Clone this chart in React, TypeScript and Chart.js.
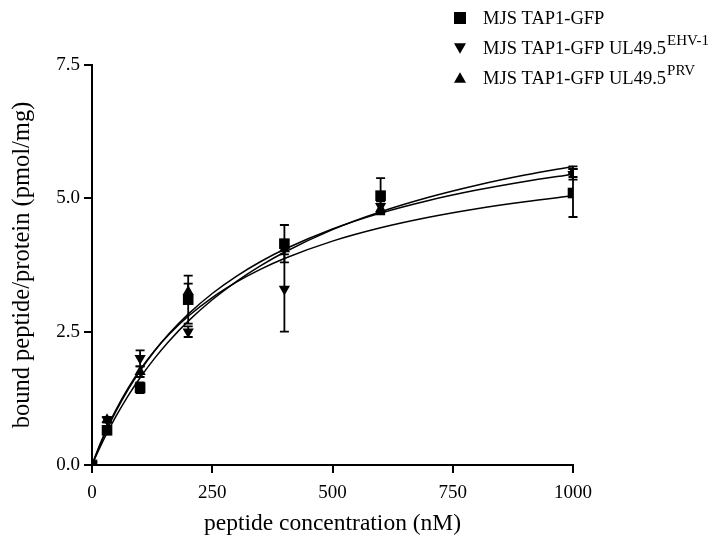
import React, { useEffect, useRef } from "react";
import { Chart, registerables } from "chart.js";

Chart.register(...registerables);

// Peptide concentrations (nM)
const CONCENTRATIONS = [0, 31.25, 100, 200, 400, 600, 1000];

// Bound peptide/protein (pmol/mg) and error bars
const TAP1_GFP = [0, 0.65, 1.45, 3.1, 4.15, 5.05, 5.1];
const TAP1_GFP_ERR = [0, 0.05, 0.1, 0.45, 0.35, 0.33, 0.45];
const EHV1 = [0, 0.85, 2.0, 2.5, 3.3, 4.85, 5.45];
const EHV1_ERR = [0, 0.05, 0.15, 0.1, 0.8, 0.1, 0.1];
const PRV = [0, 0.85, 1.75, 3.25, 4.05, 4.8, 5.5];
const PRV_ERR = [0, 0.05, 0.1, 0.15, 0.1, 0.1, 0.1];

// One-site binding fit parameters (Bmax, Kd)
const FIT_BMAX = [6.33, 7.1, 7.66];
const FIT_KD = [254, 302, 368];
const CURVE_X = [0, 10, 20, 31.25, 50, 75, 100, 130, 160, 200, 250, 300, 350, 400, 500, 600, 700, 800, 900, 1000];

const X_TICKS = [0, 250, 500, 750, 1000];
const Y_TICKS = [0, 2.5, 5.0, 7.5];

const LEGEND_LABELS = ["MJS TAP1-GFP", "MJS TAP1-GFP UL49.5", "MJS TAP1-GFP UL49.5"];
const LEGEND_SUPERS = ["", "EHV-1", "PRV"];
const LEGEND_MARKERS = ["square", "down", "up"];

const FONT = "'Liberation Serif', 'Times New Roman', serif";

function drawMarker(ctx: CanvasRenderingContext2D, kind: string, x: number, y: number, r: number) {
  ctx.beginPath();
  if (kind === "square") {
    ctx.rect(x - r, y - r, 2 * r, 2 * r);
  } else if (kind === "down") {
    ctx.moveTo(x - r, y - r * 0.8);
    ctx.lineTo(x + r, y - r * 0.8);
    ctx.lineTo(x, y + r * 0.95);
    ctx.closePath();
  } else {
    ctx.moveTo(x - r, y + r * 0.8);
    ctx.lineTo(x + r, y + r * 0.8);
    ctx.lineTo(x, y - r * 0.95);
    ctx.closePath();
  }
  ctx.fill();
}

const errorBarPlugin = {
  id: "errorBars",
  beforeDatasetsDraw(chart: any) {
    const ctx = chart.ctx;
    const yScale = chart.scales.y;
    ctx.save();
    ctx.strokeStyle = "#000";
    ctx.lineWidth = 1.8;
    chart.data.datasets.forEach((ds: any, i: number) => {
      if (!ds.errors) return;
      const meta = chart.getDatasetMeta(i);
      meta.data.forEach((pt: any, j: number) => {
        const v = ds.data[j].y;
        const e = ds.errors[j];
        if (!e) return;
        const x = pt.x;
        const yTop = yScale.getPixelForValue(v + e);
        const yBot = yScale.getPixelForValue(v - e);
        ctx.beginPath();
        ctx.moveTo(x, yTop);
        ctx.lineTo(x, yBot);
        ctx.moveTo(x - 4.5, yTop);
        ctx.lineTo(x + 4.5, yTop);
        ctx.moveTo(x - 4.5, yBot);
        ctx.lineTo(x + 4.5, yBot);
        ctx.stroke();
      });
    });
    ctx.restore();
  },
};

const legendPlugin = {
  id: "customLegend",
  afterDraw(chart: any) {
    const ctx = chart.ctx;
    ctx.save();
    ctx.fillStyle = "#000";
    ctx.textBaseline = "alphabetic";
    ctx.textAlign = "left";
    LEGEND_LABELS.forEach((label, i) => {
      const cy = 18 + i * 30;
      drawMarker(ctx, LEGEND_MARKERS[i], 460, cy, 6);
      ctx.font = `18.5px ${FONT}`;
      ctx.fillText(label, 483, cy + 6);
      if (LEGEND_SUPERS[i]) {
        const w = ctx.measureText(label).width;
        ctx.font = `15px ${FONT}`;
        ctx.fillText(LEGEND_SUPERS[i], 483 + w + 1, cy - 3);
      }
    });
    ctx.restore();
  },
};

export default function App() {
  const canvasRef = useRef<HTMLCanvasElement | null>(null);

  useEffect(() => {
    if (!canvasRef.current) return;
    const series = [TAP1_GFP, EHV1, PRV];
    const errs = [TAP1_GFP_ERR, EHV1_ERR, PRV_ERR];
    const styles: any[] = [
      { pointStyle: "rect", radius: 7.5, rotation: 0 },
      { pointStyle: "triangle", radius: 6.5, rotation: 180 },
      { pointStyle: "triangle", radius: 6.5, rotation: 0 },
    ];

    const curveSets = FIT_BMAX.map((bmax, k) => ({
      type: "line" as const,
      data: CURVE_X.map((x) => ({ x, y: (bmax * x) / (FIT_KD[k] + x) })),
      borderColor: "#000",
      borderWidth: 1.5,
      pointRadius: 0,
      cubicInterpolationMode: "monotone" as const,
      fill: false,
    }));

    const pointSets = series.map((vals, k) => ({
      type: "scatter" as const,
      data: CONCENTRATIONS.map((x, j) => ({ x, y: vals[j] })),
      errors: errs[k],
      pointStyle: styles[k].pointStyle,
      pointRadius: styles[k].radius,
      pointRotation: styles[k].rotation,
      backgroundColor: "#000",
      borderColor: "#000",
      borderWidth: 0,
      showLine: false,
    }));

    const chart = new Chart(canvasRef.current, {
      type: "scatter",
      data: { datasets: [...curveSets, ...pointSets] as any },
      options: {
        animation: false,
        responsive: false,
        maintainAspectRatio: false,
        layout: { padding: { top: 65, right: 141, left: 0, bottom: 0 } },
        plugins: { legend: { display: false }, tooltip: { enabled: false } },
        scales: {
          x: {
            type: "linear",
            min: 0,
            max: 1000,
            afterBuildTicks: (s: any) => {
              s.ticks = X_TICKS.map((v) => ({ value: v }));
            },
            ticks: {
              color: "#000",
              font: { family: FONT, size: 19 },
              padding: 9,
              maxRotation: 0,
              callback: (v: any) => String(v),
            },
            grid: { display: true, drawOnChartArea: false, drawTicks: true, tickLength: 8, color: "#000", lineWidth: 2 },
            border: { display: true, color: "#000", width: 2 },
            title: {
              display: true,
              text: "peptide concentration (nM)",
              color: "#000",
              font: { family: FONT, size: 23.5 },
              padding: { top: 0, bottom: 5 },
            },
            afterFit: (s: any) => {
              s.height = 78;
            },
          },
          y: {
            type: "linear",
            min: 0,
            max: 7.5,
            afterBuildTicks: (s: any) => {
              s.ticks = Y_TICKS.map((v) => ({ value: v }));
            },
            ticks: {
              color: "#000",
              font: { family: FONT, size: 19 },
              padding: 4,
              callback: (v: any) => Number(v).toFixed(1),
            },
            grid: { display: true, drawOnChartArea: false, drawTicks: true, tickLength: 8, color: "#000", lineWidth: 2 },
            border: { display: true, color: "#000", width: 2 },
            title: {
              display: true,
              text: "bound peptide/protein (pmol/mg)",
              color: "#000",
              font: { family: FONT, size: 24.5 },
              padding: { top: 8, bottom: 0 },
            },
            afterFit: (s: any) => {
              s.width = 92;
            },
          },
        },
      } as any,
      plugins: [errorBarPlugin, legendPlugin],
    });
    return () => chart.destroy();
  }, []);

  return (
    <div style={{ position: "absolute", left: 0, top: 0, width: 714, height: 543, background: "#fff" }}>
      <canvas ref={canvasRef} width={714} height={543} style={{ display: "block", width: 714, height: 543 }} />
    </div>
  );
}
